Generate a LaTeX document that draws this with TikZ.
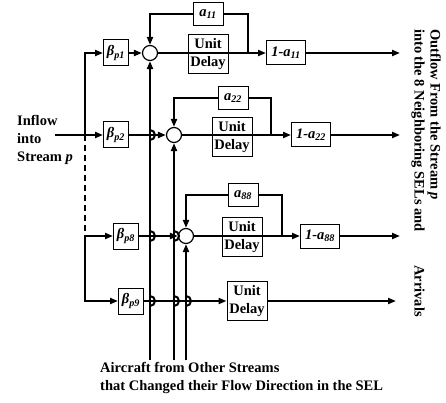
\documentclass[tikz,border=0pt]{standalone}
\usepackage{fontspec}
\setmainfont{Liberation Serif}
\usetikzlibrary{positioning, arrows.meta, calc}

\begin{document}
\begin{tikzpicture}[
    x=1pt, y=1pt,
    font=\fontsize{14.5}{18}\selectfont\bfseries,
    % Styles
    blk/.style={draw, line width=1pt, fill=white, inner sep=1pt},
    gainbox/.style={blk, minimum width=25pt, minimum height=26pt, font=\fontsize{14.5}{18}\selectfont\bfseries\itshape},
    fbbox/.style={blk, minimum width=30pt, minimum height=23pt, font=\fontsize{14.5}{18}\selectfont\bfseries\itshape},
    delaybox/.style={blk, minimum width=40pt, minimum height=39pt, align=center},
    outbox/.style={blk, minimum width=39pt, minimum height=24pt, font=\fontsize{14.5}{18}\selectfont\bfseries\itshape},
    sum/.style={circle, draw, line width=1.2pt, fill=white, minimum size=15pt, inner sep=0pt},
    wire/.style={line width=2pt},
    arrow/.style={wire, -{Triangle[length=8pt, width=6pt]}},
    txt/.style={inner sep=0pt, align=left}
]
    \useasboundingbox (0,0) rectangle (446,-403);

    % --- LEFT SIDE ---
    \node[txt, anchor=north west] (inlab) at (17,-115) {Inflow\\into\\Stream \textit{p}};
    \coordinate (inflow) at (55,-135);
    \coordinate (split) at (85,-135);

    % --- GAIN BOXES ---
    \node[gainbox] (bp1) at (116,-53) {β\textsubscript{p1}};
    \node[gainbox] (bp2) at (116,-135) {β\textsubscript{p2}};
    \node[gainbox] (bp8) at (126,-236) {β\textsubscript{p8}};
    \node[gainbox] (bp9) at (131,-301) {β\textsubscript{p9}};

    % --- SUMMERS ---
    \node[sum] (circ1) at (150,-53) {};
    \node[sum] (circ2) at (174,-135) {};
    \node[sum] (circ8) at (186,-236) {};

    % --- FEEDBACK BOXES ---
    \node[fbbox] (a11) at (208,-14) {a\textsubscript{11}};
    \node[fbbox] (a22) at (233,-98) {a\textsubscript{22}};
    \node[fbbox] (a88) at (243,-195) {a\textsubscript{88}};

    % --- UNIT DELAYS ---
    \node[delaybox] (ud1) at (208,-54) {Unit\\Delay};
    \node[delaybox] (ud2) at (232,-137) {Unit\\Delay};
    \node[delaybox] (ud8) at (242,-237) {Unit\\Delay};
    \node[delaybox] (ud9) at (247,-301) {Unit\\Delay};

    % --- OUTFLOW BOXES ---
    \node[outbox] (oma1) at (286,-53) {1-a\textsubscript{11}};
    \node[outbox] (oma2) at (311,-135) {1-a\textsubscript{22}};
    \node[outbox] (oma8) at (320,-236) {1-a\textsubscript{88}};

    \coordinate (tap1) at (248,-53);
    \coordinate (tap2) at (271,-135);
    \coordinate (tap8) at (282,-236);
    \coordinate (out1) at (400,-53);
    \coordinate (out2) at (400,-135);
    \coordinate (out8) at (400,-236);
    \coordinate (out9) at (396,-301);

    % other streams from below
    \coordinate (vA) at (150,-360);
    \coordinate (vB) at (174,-360);
    \coordinate (vC) at (186,-360);

    % --- INPUT DISTRIBUTION ---
    \draw[arrow] (inflow) -- (bp2.west);
    \draw[arrow] (split) |- (bp1.west);
    \draw[wire, dashed, dash pattern=on 6pt off 4pt] (split) -- (split |- bp8.west);
    \draw[arrow] (split |- bp8.west) -- (bp8.west);
    \draw[arrow] (split |- bp8.west) |- (bp9.west);

    % --- ROWS ---
    \draw[arrow] (bp1) -- (circ1);
    \draw[arrow] (bp2) -- (circ2);
    \draw[arrow] (bp8) -- (circ8);
    \draw[arrow] (bp9) -- (ud9);

    \draw[arrow] (circ1) -- (oma1);
    \draw[arrow] (circ2) -- (oma2);
    \draw[arrow] (circ8) -- (oma8);

    \draw[arrow] (oma1) -- (out1);
    \draw[arrow] (oma2) -- (out2);
    \draw[arrow] (oma8) -- (out8);
    \draw[arrow] (ud9) -- (out9);

    % feedback loops
    \draw[wire] (tap1) |- (a11.east);
    \draw[arrow] (a11.west) -| (circ1.north);
    \draw[wire] (tap2) |- (a22.east);
    \draw[arrow] (a22.west) -| (circ2.north);
    \draw[wire] (tap8) |- (a88.east);
    \draw[arrow] (a88.west) -| (circ8.north);

    % streams that changed direction
    \draw[arrow] (vA) -- (circ1.south);
    \draw[arrow] (vB) -- (circ2.south);
    \draw[arrow] (vC) -- (circ8.south);

    % hops where lines cross
    \foreach \p in {(150,-135), (150,-236), (174,-236), (150,-301), (174,-301), (186,-301)}
        \draw[wire] \p ++(0,5) arc[start angle=90, end angle=-90, radius=5];

    % --- LABELS ---
    \node[txt, anchor=north west] (otherlab) at (100,-362) {Aircraft from Other Streams\\that Changed their Flow Direction in the SEL};
    \node[txt, rotate=-90, anchor=north west, execute at begin node=\setlength{\baselineskip}{16pt}] (outlab) at (441,-29) {Outflow From the Stream \textit{p}\\into the 8 Neighboring SELs and};
    \node[txt, rotate=-90, anchor=north west] (arrlab) at (425,-265) {Arrivals};

\end{tikzpicture}
\end{document}
